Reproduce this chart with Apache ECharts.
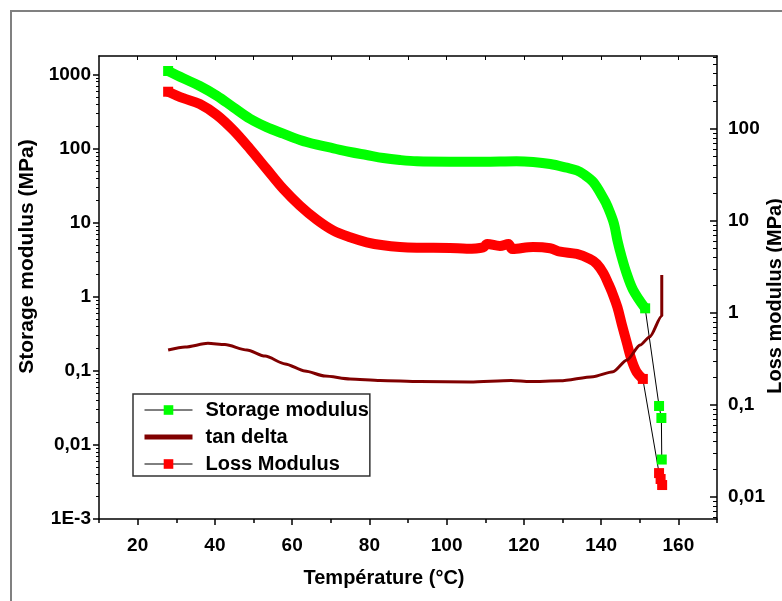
<!DOCTYPE html>
<html><head><meta charset="utf-8">
<script src="https://cdn.jsdelivr.net/npm/echarts@6/dist/echarts.min.js"></script>
<style>html,body{margin:0;padding:0;background:#fff}#c{width:782px;height:601px}</style>
</head><body><div id="c"></div>
<script>
// ---------- data ----------
const storageBandT = [27.9, 31.8, 36.1, 40.5, 44.8, 49.1, 53.4, 57.7, 62.0, 66.4, 70.7, 75.0, 79.3, 83.6, 87.9, 92.3, 100.9, 109.5, 118.1, 122.4, 126.8, 131.1, 133.7, 135.4, 138.0, 140.6, 141.7, 143.3, 144.2, 145.3, 146.6, 148.3, 151.4];
const storageBandV = [1115, 889, 700, 518, 361, 253, 195, 159, 131, 113, 101, 89.9, 81.9, 74.6, 70.1, 67.3, 66.5, 66.5, 67.5, 65.9, 61.9, 55.2, 50.9, 45.4, 35.1, 21.3, 16.4, 9.8, 5.83, 3.47, 2.07, 1.23, 0.698];
const storageTailT = [151.4, 155.0, 155.6, 155.7];
const storageTailV = [0.698, 0.0335, 0.0231, 0.00635];

const lossBandT = [27.9, 31.8, 36.1, 40.5, 44.8, 49.1, 53.4, 57.7, 62.0, 66.4, 70.7, 75.0, 79.3, 83.6, 87.9, 92.3, 100.9, 105.2, 109.5, 110.5, 113.8, 116.0, 117.0, 122.4, 126.8, 129.4, 133.7, 137.1, 138.9, 140.6, 141.9, 142.8, 144.2, 145.4, 146.6, 147.9, 149.2, 150.8];
const lossBandV = [254, 216, 187, 142, 96.8, 60.6, 36.7, 22.3, 14.7, 10.3, 7.85, 6.65, 5.87, 5.44, 5.22, 5.13, 5.09, 5.00, 5.18, 5.62, 5.35, 5.62, 4.96, 5.21, 5.05, 4.64, 4.38, 3.86, 3.41, 2.70, 2.07, 1.69, 1.16, 0.741, 0.484, 0.308, 0.228, 0.192];
const lossTailT = [150.8, 155.0, 155.4, 155.8];
const lossTailV = [0.192, 0.0182, 0.0157, 0.0135];

const tanT = [27.9, 32.3, 38.2, 42.6, 48.3, 53.0, 58.2, 63.3, 68.5, 75.0, 82.8, 93.1, 106.1, 116.7, 121.6, 129.4, 137.9, 143.1, 146.7, 150.1, 152.6, 155.7, 155.7];
const tanV = [0.191, 0.210, 0.235, 0.226, 0.191, 0.158, 0.124, 0.0995, 0.0851, 0.0776, 0.0740, 0.0717, 0.0706, 0.0740, 0.0717, 0.0735, 0.0834, 0.0973, 0.140, 0.223, 0.289, 0.550, 1.96];

const xTickValues = [20, 40, 60, 80, 100, 120, 140, 160];
const xTickLabels = ['20', '40', '60', '80', '100', '120', '140', '160'];
const xMinorValues = [10, 30, 50, 70, 90, 110, 130, 150, 170];
const leftTickValues = [0.001, 0.01, 0.1, 1, 10, 100, 1000];
const leftTickLabels = ['1E-3', '0,01', '0,1', '1', '10', '100', '1000'];
const rightTickValues = [0.01, 0.1, 1, 10, 100];
const rightTickLabels = ['0,01', '0,1', '1', '10', '100'];
const seriesNames = ['Storage modulus', 'tan delta', 'Loss Modulus'];
const axisTitles = {x: 'Température (°C)', left: 'Storage modulus (MPa)', right: 'Loss modulus (MPa)'};

// ---------- axis ranges ----------
const X_MIN = 10, X_MAX = 170;
const L_MIN = 0.001, L_MAX = 1778;
const R_MIN = 0.00577, R_MAX = 621;

// ---------- helpers ----------
const FONT = '"Liberation Sans", Arial, sans-serif';
const pair = (t, v) => t.map((x, i) => [x, v[i]]);
function minorLog(min, max) {
  const out = [];
  for (let d = -4; d <= 4; d++) for (let m = 2; m <= 9; m++) {
    const v = m * Math.pow(10, d);
    if (v > min && v < max) out.push(v);
  }
  return out;
}
function labelFor(vals, labels) {
  return v => {
    const i = vals.findIndex(t => Math.abs(Math.log10(t) - Math.log10(v)) < 1e-6);
    return i >= 0 ? labels[i] : '';
  };
}
const firstOnly = (v, p) => (p.dataIndex === 0 ? 10 : 0);
const blk = {color: '#000', width: 1.5};
const tickFont = {fontFamily: FONT, fontWeight: 'bold', fontSize: 19, color: '#000'};
const titleFont = {fontFamily: FONT, fontWeight: 'bold', fontSize: 20, color: '#000'};

const GREEN = '#00ff00', RED = '#ff0000', DARK = '#800000';

const chart = echarts.init(document.getElementById('c'), null, {renderer: 'canvas'});
const option = {
  animation: false,
  backgroundColor: '#fff',
  graphic: [{
    type: 'rect', silent: true, z: -10,
    shape: {x: 11, y: 11, width: 800, height: 620},
    style: {fill: 'none', stroke: '#808080', lineWidth: 2}
  }],
  grid: {left: 99, top: 56, width: 618, height: 463, containLabel: false, outerBoundsMode: 'none'},
  legend: {
    orient: 'vertical', left: 133, top: 394,
    data: [
      {name: seriesNames[0], lineStyle: {color: '#000', width: 1}, itemStyle: {color: GREEN}},
      {name: seriesNames[1], lineStyle: {color: DARK, width: 5}, itemStyle: {opacity: 0}},
      {name: seriesNames[2], lineStyle: {color: '#000', width: 1}, itemStyle: {color: RED}}
    ],
    itemWidth: 48, itemHeight: 12, itemGap: 7,
    padding: [6, 1, 2, 9],
    borderColor: '#333', borderWidth: 1.5, backgroundColor: '#fff',
    selectedMode: false,
    textStyle: {fontFamily: FONT, fontWeight: 'bold', fontSize: 20, color: '#000', padding: [0, 0, 0, 8]}
  },
  xAxis: [
    {
      type: 'value', min: X_MIN, max: X_MAX, position: 'bottom',
      axisLine: {lineStyle: blk},
      axisTick: {customValues: xTickValues, length: 6, lineStyle: blk},
      axisLabel: {customValues: xTickValues, margin: 17, ...tickFont,
        formatter: v => { const i = xTickValues.indexOf(Math.round(v)); return i >= 0 ? xTickLabels[i] : ''; }},
      splitLine: {show: false},
      name: axisTitles.x, nameLocation: 'middle', nameGap: 49,
      nameTextStyle: {...titleFont, padding: [0, 48, 0, 0]}
    },
    {
      type: 'value', min: X_MIN, max: X_MAX, position: 'bottom',
      axisLine: {show: false},
      axisTick: {customValues: xMinorValues, length: 4, lineStyle: blk},
      axisLabel: {show: false}, splitLine: {show: false}
    },
    {
      type: 'value', min: X_MIN, max: X_MAX, position: 'top',
      axisLine: {lineStyle: blk},
      axisTick: {inside: true, customValues: xTickValues.concat(xMinorValues.slice(1, -1)), length: 4, lineStyle: {color: '#000', width: 1}},
      axisLabel: {show: false}, splitLine: {show: false}
    }
  ],
  yAxis: [
    {
      type: 'log', logBase: 10, min: L_MIN, max: L_MAX, position: 'left',
      axisLine: {show: true, lineStyle: blk},
      axisTick: {show: true, customValues: leftTickValues, length: 6, lineStyle: blk},
      axisLabel: {customValues: leftTickValues, margin: 8, ...tickFont, formatter: labelFor(leftTickValues, leftTickLabels)},
      splitLine: {show: false},
      name: axisTitles.left, nameLocation: 'middle', nameGap: 56, nameRotate: 90,
      nameTextStyle: {...titleFont, fontSize: 21, padding: [0, 0, 0, 62]}
    },
    {
      type: 'log', logBase: 10, min: R_MIN, max: R_MAX, position: 'right',
      axisLine: {show: true, lineStyle: blk},
      axisTick: {show: true, inside: true, customValues: rightTickValues, length: 7, lineStyle: blk},
      axisLabel: {customValues: rightTickValues, margin: 11, ...tickFont, formatter: labelFor(rightTickValues, rightTickLabels)},
      splitLine: {show: false},
      name: axisTitles.right, nameLocation: 'middle', nameGap: 48, nameRotate: 90, nameMoveOverlap: false,
      nameTextStyle: {...titleFont, padding: [0, 17, 0, 0]}
    },
    {
      type: 'log', logBase: 10, min: L_MIN, max: L_MAX, position: 'left',
      axisLine: {show: false},
      axisTick: {show: true, customValues: minorLog(L_MIN, L_MAX), length: 3, lineStyle: {color: '#000', width: 1}},
      axisLabel: {show: false}, splitLine: {show: false}
    },
    {
      type: 'log', logBase: 10, min: R_MIN, max: R_MAX, position: 'right',
      axisLine: {show: false},
      axisTick: {show: true, inside: true, customValues: minorLog(R_MIN, R_MAX), length: 4, lineStyle: {color: '#000', width: 1}},
      axisLabel: {show: false}, splitLine: {show: false}
    }
  ],
  series: [
    {
      name: seriesNames[0], type: 'line', xAxisIndex: 0, yAxisIndex: 0,
      data: pair(storageBandT, storageBandV),
      symbol: 'rect', symbolSize: firstOnly, itemStyle: {color: GREEN},
      lineStyle: {color: GREEN, width: 10, join: 'round'},
      smooth: 0.35, z: 3
    },
    {
      name: seriesNames[2], type: 'line', xAxisIndex: 0, yAxisIndex: 1,
      data: pair(lossBandT, lossBandV),
      symbol: 'rect', symbolSize: firstOnly, itemStyle: {color: RED},
      lineStyle: {color: RED, width: 10, join: 'round'},
      smooth: 0.35, z: 3
    },
    {
      name: seriesNames[0], type: 'line', xAxisIndex: 0, yAxisIndex: 0,
      data: pair(storageTailT, storageTailV),
      symbol: 'rect', symbolSize: 10, itemStyle: {color: GREEN},
      lineStyle: {color: '#000', width: 1}, z: 4
    },
    {
      name: seriesNames[2], type: 'line', xAxisIndex: 0, yAxisIndex: 1,
      data: pair(lossTailT, lossTailV),
      symbol: 'rect', symbolSize: 10, itemStyle: {color: RED},
      lineStyle: {color: '#000', width: 1}, z: 4
    },
    {
      name: seriesNames[1], type: 'line', xAxisIndex: 0, yAxisIndex: 0,
      data: pair(tanT, tanV),
      symbol: 'none', itemStyle: {color: DARK},
      lineStyle: {color: DARK, width: 3}, smooth: 0.25, smoothMonotone: 'x', z: 5
    }
  ]
};
chart.setOption(option);
</script>
</body></html>
